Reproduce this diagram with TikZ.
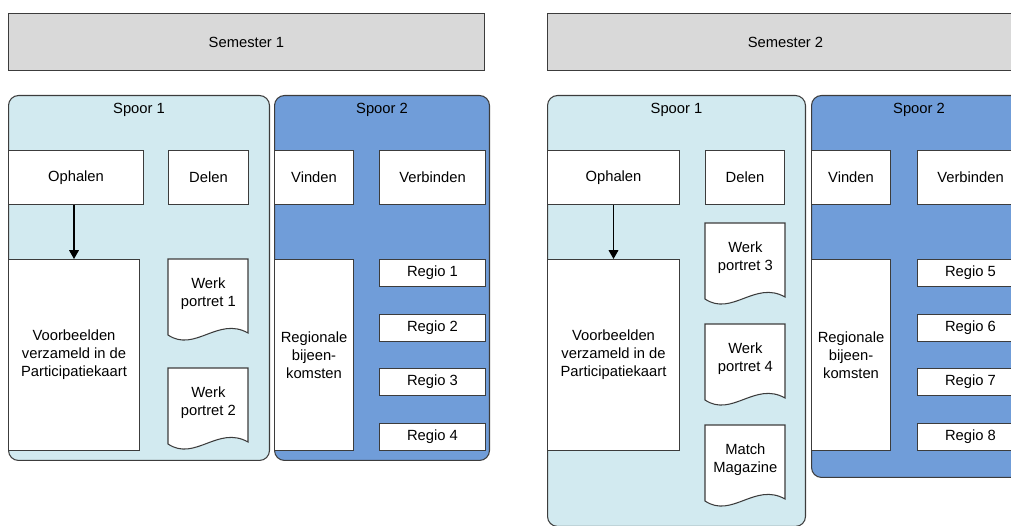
\documentclass[tikz,border=0pt]{standalone}
\usepackage{fontspec}
\setmainfont{Liberation Sans}
\usetikzlibrary{arrows.meta}

\definecolor{spoorlicht}{RGB}{210,234,240}
\definecolor{spoordonker}{RGB}{112,157,217}
\definecolor{semgrijs}{RGB}{217,217,217}
\definecolor{rand}{RGB}{60,60,60}

% document shape with wavy bottom: name, x, y, text
\newcommand{\docnode}[4]{%
  \coordinate (#1) at (#2,#3);
  \filldraw[docrand] (#1) -- ++(80,0) -- ++(0,74)
    .. controls +(-30,-17) and +(27,18) .. ++(-80,2) -- cycle;
  \node[doc] (#1t) at (#1) {#4};
}

\begin{document}
\begin{tikzpicture}
  [x=0.02cm, y=-0.02cm,
    font=\fontsize{8.4}{10.2}\selectfont,
    box/.style={
      draw=rand, fill=white, line width=0.6pt, anchor=north west,
      inner sep=1pt, align=center
    },
    semester/.style={box, fill=semgrijs, minimum width=9.52cm, minimum height=1.14cm},
    spoorA/.style={
      draw=rand, fill=spoorlicht, line width=0.6pt, rounded corners=0.2cm,
      anchor=north west, inner sep=0pt
    },
    spoorB/.style={spoorA, fill=spoordonker},
    kop/.style={box, minimum height=1.08cm},
    groot/.style={box, minimum height=3.82cm},
    regio/.style={box, minimum width=2.12cm, minimum height=0.54cm},
    docrand/.style={draw=rand, fill=white, line width=0.6pt},
    doc/.style={anchor=north west, minimum width=1.6cm, minimum height=1.36cm,
      inner sep=0pt, align=center},
  ]
  \useasboundingbox (0,0) rectangle (1011,526);
  \clip (0,0) rectangle (1011,526);

  % Semester 1
  \node[semester] (sem1) at (8,13) {Semester 1};
  \node[spoorA, minimum width=5.22cm, minimum height=7.3cm] (sp1a) at (8,95) {};
  \node[spoorB, minimum width=4.3cm, minimum height=7.3cm] (sp2a) at (274,95) {};
  \node (t1a) at ([yshift=-0.29cm]sp1a.north) {Spoor 1};
  \node (t2a) at ([yshift=-0.29cm]sp2a.north) {Spoor 2};

  \node[kop, minimum width=2.7cm] (ophalen1) at (8,150) {Ophalen};
  \node[kop, minimum width=1.6cm] (delen1) at (168,150) {Delen};
  \node[kop, minimum width=1.58cm] (vinden1) at (274,150) {Vinden};
  \node[kop, minimum width=2.12cm] (verbinden1) at (379,150) {Verbinden};

  \node[groot, minimum width=2.62cm] (voorb1) at (8,259)
    {Voorbeelden\\verzameld in de\\Participatiekaart};
  \node[groot, minimum width=1.58cm] (regionaal1) at (274,259)
    {Regionale\\bijeen-\\komsten};
  \docnode{wp1}{168}{259}{Werk\\portret 1}
  \docnode{wp2}{168}{368}{Werk\\portret 2}
  \foreach \i/\y in {1/259, 2/314, 3/368, 4/423}
    \node[regio] (regio\i) at (379,\y) {Regio \i};

  % Semester 2
  \node[semester] (sem2) at (547,13) {Semester 2};
  \node[spoorA, minimum width=5.16cm, minimum height=8.62cm] (sp1b) at (547,95) {};
  \node[spoorB, minimum width=4.3cm, minimum height=7.64cm] (sp2b) at (811,95) {};
  \node (t1b) at ([yshift=-0.29cm]sp1b.north) {Spoor 1};
  \node (t2b) at ([yshift=-0.29cm]sp2b.north) {Spoor 2};

  \node[kop, minimum width=2.64cm] (ophalen2) at (547,150) {Ophalen};
  \node[kop, minimum width=1.58cm] (delen2) at (705,150) {Delen};
  \node[kop, minimum width=1.58cm] (vinden2) at (811,150) {Vinden};
  \node[kop, minimum width=2.12cm] (verbinden2) at (917,150) {Verbinden};

  \node[groot, minimum width=2.64cm] (voorb2) at (547,259)
    {Voorbeelden\\verzameld in de\\Participatiekaart};
  \node[groot, minimum width=1.58cm] (regionaal2) at (811,259)
    {Regionale\\bijeen-\\komsten};
  \docnode{wp3}{705}{223}{Werk\\portret 3}
  \docnode{wp4}{705}{324}{Werk\\portret 4}
  \docnode{match}{705}{425}{Match\\Magazine}
  \foreach \i/\y in {5/259, 6/314, 7/368, 8/423}
    \node[regio] (regio\i) at (917,\y) {Regio \i};

  % Arrows
  \draw[-{Triangle[width=5.5pt,length=5pt]}, draw=black, line width=0.6pt]
    (ophalen1.south -| voorb1.north) -- (voorb1.north);
  \draw[-{Triangle[width=5.5pt,length=5pt]}, draw=black, line width=0.6pt]
    (ophalen2.south -| voorb2.north) -- (voorb2.north);
\end{tikzpicture}
\end{document}
